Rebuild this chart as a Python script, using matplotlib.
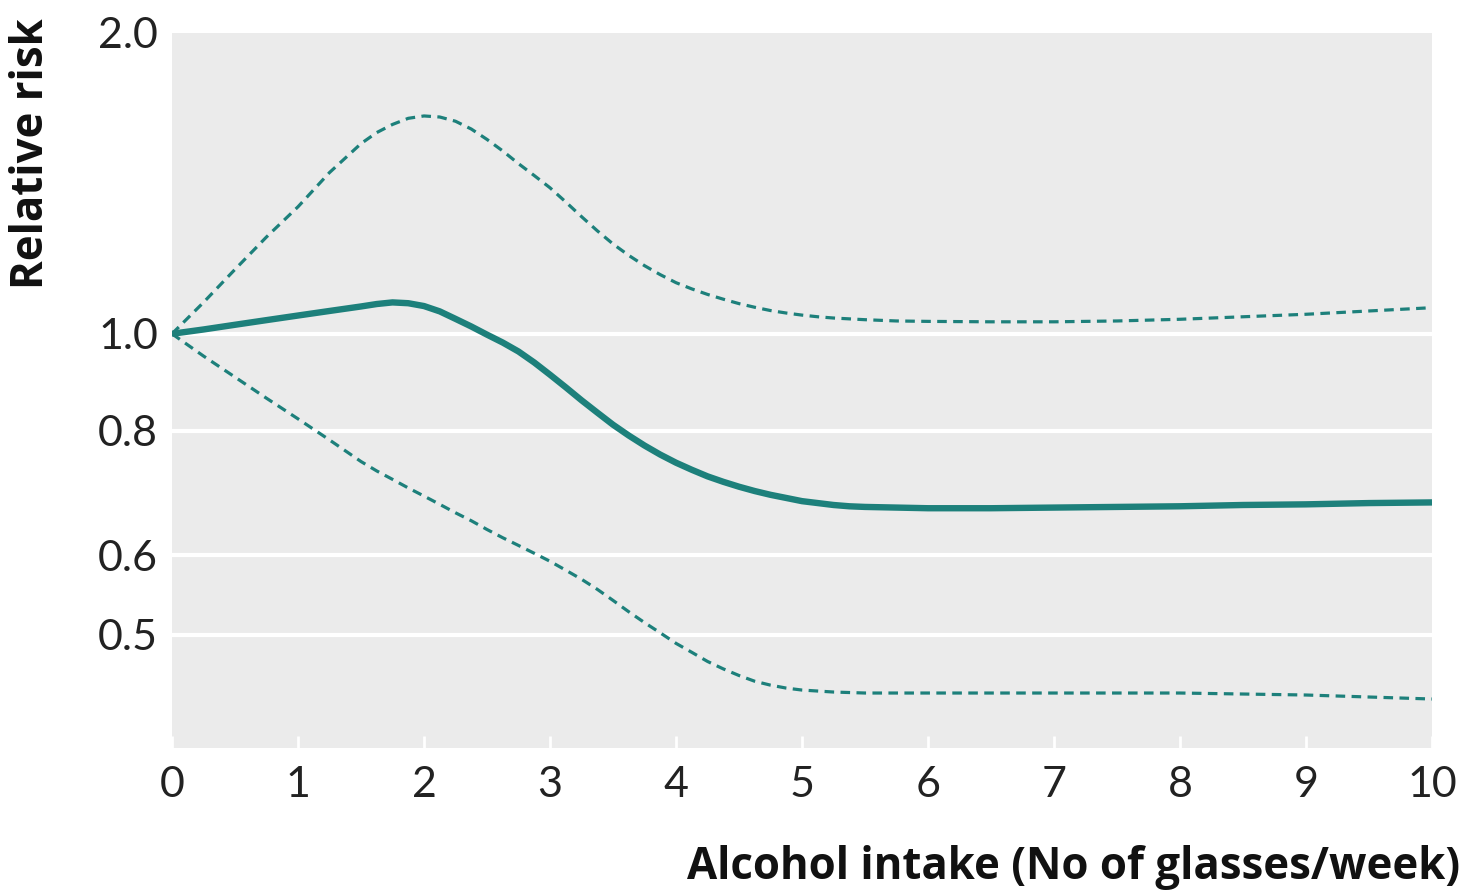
import matplotlib.pyplot as plt
import matplotlib.ticker as mticker

# glasses per week
x = [0, 0.25, 0.5, 0.75, 1.0, 1.25, 1.5, 1.625, 1.75, 1.875, 2.0, 2.125,
     2.25, 2.375, 2.5, 2.625, 2.75, 2.875, 3.0, 3.125, 3.25, 3.375, 3.5,
     3.625, 3.75, 3.875, 4.0, 4.125, 4.25, 4.375, 4.5, 4.625, 4.75, 4.875,
     5.0, 5.125, 5.25, 5.375, 5.5, 5.75, 6.0, 6.5, 7.0, 7.5, 8.0, 8.5, 9.0,
     9.5, 10.0]

# relative risk (estimate) and 95% limits
rr_mid = [1.000, 1.010, 1.021, 1.032, 1.043, 1.054, 1.065, 1.071, 1.075, 1.073,
          1.066, 1.053, 1.035, 1.017, 0.998, 0.980, 0.960, 0.936, 0.910, 0.884,
          0.858, 0.834, 0.811, 0.791, 0.773, 0.757, 0.743, 0.731, 0.720, 0.711,
          0.703, 0.696, 0.690, 0.685, 0.680, 0.677, 0.674, 0.672, 0.671, 0.670,
          0.669, 0.669, 0.670, 0.671, 0.672, 0.674, 0.675, 0.677, 0.678]
rr_upper = [1.000, 1.075, 1.160, 1.250, 1.340, 1.450, 1.550, 1.590, 1.620, 1.643,
            1.652, 1.648, 1.632, 1.603, 1.565, 1.524, 1.480, 1.440, 1.400, 1.355,
            1.310, 1.268, 1.230, 1.198, 1.170, 1.146, 1.125, 1.109, 1.095, 1.083,
            1.072, 1.063, 1.055, 1.049, 1.044, 1.040, 1.037, 1.035, 1.033, 1.030,
            1.029, 1.028, 1.028, 1.030, 1.034, 1.040, 1.046, 1.054, 1.062]
rr_lower = [1.000, 0.950, 0.905, 0.862, 0.822, 0.783, 0.745, 0.729, 0.715, 0.701,
            0.688, 0.675, 0.662, 0.650, 0.637, 0.625, 0.614, 0.603, 0.592, 0.580,
            0.568, 0.555, 0.541, 0.527, 0.514, 0.502, 0.490, 0.480, 0.470, 0.462,
            0.455, 0.449, 0.445, 0.442, 0.440, 0.439, 0.438, 0.4375, 0.437, 0.437,
            0.437, 0.437, 0.437, 0.437, 0.437, 0.436, 0.435, 0.433, 0.431]

xticks = list(range(0, 11))
yticks = [0.5, 0.6, 0.8, 1.0, 2.0]
ytick_labels = ['0.5', '0.6', '0.8', '1.0', '2.0']

teal = '#1d807b'
plt.rcParams['font.family'] = ['Lato', 'DejaVu Sans']

fig = plt.figure(figsize=(14.62, 8.93), dpi=100)
ax = fig.add_axes([172/1462, 1-748/893, 1260/1462, 715/893])
ax.set_facecolor('#ebebeb')

ax.set_yscale('log')
ax.set_xlim(0, 10)
ax.set_ylim(0.385, 2.0)

# white grid lines, only the ones below 2.0
for v in [0.5, 0.6, 0.8, 1.0]:
    ax.axhline(v, color='white', lw=3, zorder=1)

ax.plot(x, rr_upper, color=teal, lw=2.3, ls=(0, (3, 2)), zorder=3)
ax.plot(x, rr_lower, color=teal, lw=2.3, ls=(0, (3, 2)), zorder=3)
ax.plot(x, rr_mid, color=teal, lw=4.6, zorder=4, solid_capstyle='butt',
        solid_joinstyle='round')

ax.set_xticks(xticks)
ax.set_xticklabels([str(t) for t in xticks])
ax.yaxis.set_major_locator(mticker.FixedLocator(yticks))
ax.yaxis.set_minor_locator(mticker.NullLocator())
ax.set_yticklabels(ytick_labels)

ax.tick_params(axis='x', direction='in', length=9, width=2, color='white',
               labelsize=31, pad=13, labelcolor='#222222')
ax.tick_params(axis='y', length=0, labelsize=31, pad=10, labelcolor='#222222')

for s in ax.spines.values():
    s.set_visible(False)

fig.text(1460/1462, 1-868/893, 'Alcohol intake (No of glasses/week)',
         ha='right', va='center', fontsize=31.5, fontweight='bold', color='#111111',
         family=['Open Sans', 'DejaVu Sans'])
fig.text(32/1462, 1-18/893, 'Relative risk', rotation=90, ha='center', va='top',
         fontsize=31.5, fontweight='bold', color='#111111',
         family=['Open Sans', 'DejaVu Sans'])

fig.savefig('out.png', dpi=100)
